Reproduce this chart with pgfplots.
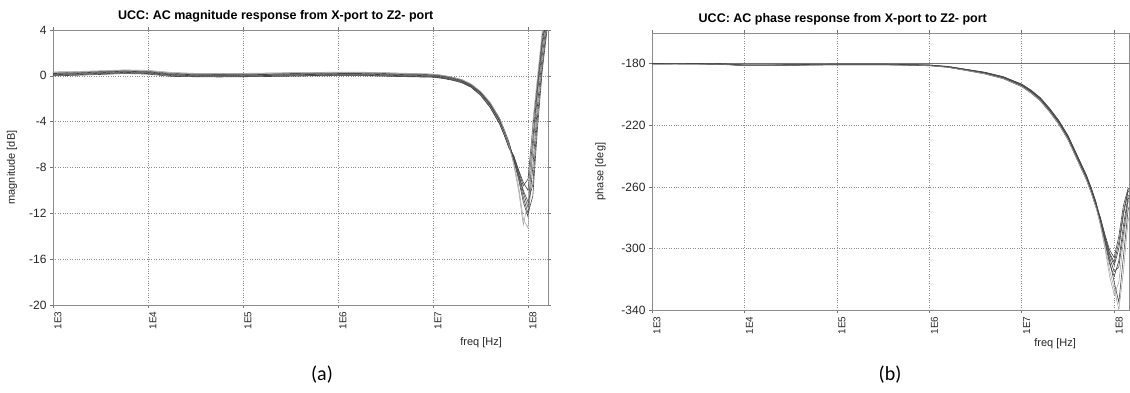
\documentclass[border=0pt]{standalone}
\usepackage{fontspec}
\setmainfont{Liberation Sans}
\newfontfamily\capfont{Carlito}
\usepackage{pgfplots}
\pgfplotsset{compat=1.18}
\usepackage{pgfplotstable}

% x = log10(freq/Hz)
\pgfplotstableread{
x     a      b      c      d      e      f      g      h
3.00  0.15   0.25   0.05   0.30   0.10   0.20   0.00   0.35
3.25  0.20   0.32   0.10   0.28   0.15   0.25   0.05   0.38
3.50  0.28   0.38   0.18   0.40   0.22   0.33   0.12   0.45
3.75  0.35   0.45   0.25   0.48   0.30   0.40   0.20   0.52
4.00  0.30   0.40   0.20   0.42   0.25   0.35   0.15   0.48
4.25  0.10   0.22   0.02   0.25   0.08   0.15  -0.05   0.30
4.50  0.05   0.15  -0.05   0.20   0.00   0.10  -0.08   0.22
4.75  0.05   0.14  -0.04   0.18   0.02   0.10  -0.10   0.20
5.00  0.05   0.15  -0.05   0.20   0.00   0.10  -0.08   0.22
5.25  0.07   0.17  -0.02   0.22   0.03   0.12  -0.06   0.25
5.50  0.10   0.20   0.00   0.25   0.05   0.15  -0.03   0.28
5.75  0.12   0.22   0.03   0.27   0.08   0.17   0.00   0.30
6.00  0.15   0.25   0.05   0.30   0.10   0.20   0.02   0.33
6.25  0.15   0.26   0.05   0.30   0.10   0.20   0.02   0.32
6.50  0.10   0.20   0.00   0.25   0.05   0.15  -0.03   0.28
6.75  0.05   0.15  -0.05   0.20   0.00   0.10  -0.08   0.22
7.00  0.00   0.10  -0.10   0.15  -0.05   0.05  -0.12   0.15
7.10 -0.10   0.00  -0.20   0.05  -0.15  -0.05  -0.22   0.05
7.20 -0.25  -0.15  -0.35  -0.12  -0.30  -0.20  -0.38  -0.10
7.30 -0.45  -0.35  -0.55  -0.35  -0.50  -0.40  -0.60  -0.30
7.40 -0.85  -0.75  -0.95  -0.80  -0.90  -0.80  -1.00  -0.70
7.50 -1.50  -1.40  -1.65  -1.50  -1.55  -1.45  -1.70  -1.35
7.60 -2.50  -2.35  -2.70  -2.55  -2.55  -2.45  -2.75  -2.30
7.70 -3.90  -3.70  -4.15  -4.00  -3.95  -3.85  -4.20  -3.70
7.75 -4.90  -4.70  -5.15  -5.05  -4.90  -4.85  -5.20  -4.75
7.80 -6.00  -5.80  -6.30  -6.25  -6.00  -5.95  -6.30  -6.00
7.85 -7.20  -7.40  -7.00  -7.60  -7.10  -7.30  -7.00  -7.80
7.90 -8.60  -9.00  -8.30  -9.60  -8.50  -8.80  -8.20  -10.00
7.95 -10.20 -11.00 -9.60  -12.50 -10.00 -10.60 -9.30  -13.00
8.00 -11.50 -12.30 -9.00  -13.30 -11.00 -12.00 -10.00 -11.00
8.05 -6.50  -8.00  -4.50  -6.00  -9.50  -10.50 -5.50  -4.00
8.10 -1.50  -2.50  -0.50  -1.00  -3.50  -4.50  -1.00   0.00
8.15  2.50   1.80   3.50   3.00   1.00   0.50   3.00   4.00
8.20  5.50   5.00   6.00   6.00   4.50   4.00   5.50   6.50
}\magtab

\pgfplotstableread{
x     a       b       c       d       e       f       g       h
3.00 -180.0  -179.8  -180.2  -180.0  -179.9  -180.1  -180.0  -179.8
3.25 -180.0  -179.9  -180.1  -180.1  -179.9  -180.0  -180.1  -179.9
3.50 -180.0  -179.8  -180.2  -180.0  -179.9  -180.1  -180.0  -179.8
3.75 -180.2  -180.0  -180.4  -180.2  -180.1  -180.3  -180.2  -180.0
4.00 -181.0  -180.8  -181.2  -181.0  -180.9  -181.1  -181.0  -180.8
4.25 -181.0  -180.8  -181.2  -181.1  -180.9  -181.1  -181.0  -180.8
4.50 -180.8  -180.6  -181.0  -180.8  -180.7  -180.9  -180.8  -180.6
4.75 -180.6  -180.4  -180.8  -180.6  -180.5  -180.7  -180.6  -180.4
5.00 -180.5  -180.3  -180.7  -180.5  -180.4  -180.6  -180.5  -180.3
5.25 -180.5  -180.3  -180.7  -180.5  -180.4  -180.6  -180.5  -180.3
5.50 -180.5  -180.3  -180.7  -180.5  -180.4  -180.6  -180.5  -180.3
5.75 -180.7  -180.5  -180.9  -180.7  -180.6  -180.8  -180.7  -180.5
6.00 -181.0  -180.8  -181.3  -181.0  -180.9  -181.1  -181.1  -180.8
6.20 -182.0  -181.7  -182.3  -182.1  -181.9  -182.1  -182.2  -181.8
6.40 -184.0  -183.6  -184.4  -184.1  -183.8  -184.1  -184.3  -183.7
6.60 -186.0  -185.5  -186.6  -186.2  -185.8  -186.2  -186.5  -185.6
6.80 -189.0  -188.4  -189.7  -189.3  -188.8  -189.2  -189.6  -188.5
7.00 -194.0  -193.2  -194.9  -194.4  -193.7  -194.3  -194.8  -193.4
7.10 -198.0  -197.1  -199.0  -198.5  -197.7  -198.3  -198.9  -197.3
7.20 -203.0  -202.0  -204.1  -203.6  -202.6  -203.3  -204.0  -202.2
7.30 -210.0  -208.9  -211.2  -210.7  -209.6  -210.3  -211.1  -209.1
7.40 -218.0  -216.8  -219.3  -218.8  -217.6  -218.3  -219.2  -217.0
7.50 -228.0  -226.7  -229.4  -228.9  -227.5  -228.3  -229.3  -226.8
7.60 -241.0  -239.6  -242.5  -242.0  -240.5  -241.3  -242.4  -239.7
7.70 -254.0  -252.5  -255.6  -255.2  -253.4  -254.3  -255.5  -252.6
7.75 -262.0  -260.5  -263.7  -263.3  -261.4  -262.3  -263.6  -260.5
7.80 -271.0  -269.5  -272.8  -272.5  -270.5  -271.3  -272.8  -269.4
7.85 -281.0  -283.0  -280.0  -285.0  -282.0  -281.0  -284.0  -280.0
7.90 -293.0  -296.0  -291.0  -300.0  -295.0  -294.0  -298.0  -292.0
7.95 -304.0  -310.0  -301.0  -318.0  -308.0  -306.0  -314.0  -303.0
8.00 -311.0  -318.0  -306.0  -330.0  -322.0  -315.0  -326.0  -309.0
8.05 -300.0  -308.0  -292.0  -322.0  -335.0  -312.0  -340.0  -296.0
8.10 -278.0  -285.0  -272.0  -295.0  -305.0  -290.0  -315.0  -276.0
8.15 -263.0  -266.0  -261.0  -270.0  -275.0  -268.0  -282.0  -262.0
8.20 -262.0  -263.0  -260.0  -264.0  -266.0  -263.0  -270.0  -261.0
}\phasetab

\pgfplotsset{
  ucc/.style={
    scale only axis,
    anchor=south west,
    axis line style={black!45, line width=0.8pt},
    grid=major,
    major grid style={black!45, dotted, line width=0.6pt},
    tick style={black!55, line width=0.6pt},
    tick align=outside,
    major tick length=3pt,
    xtick={3,4,5,6,7,8},
    xticklabels={1E3,1E4,1E5,1E6,1E7,1E8},
    xmin=3,
    x tick label style={rotate=90, anchor=east, yshift=-5pt, font=\fontsize{10}{11}\selectfont, text=black!85},
    y tick label style={font=\fontsize{12}{13}\selectfont, text=black!85},
    /pgf/number format/assume math mode=true,
    title style={font=\bfseries\fontsize{12.5}{14}\selectfont, anchor=south, yshift=-2pt},
    ylabel style={font=\fontsize{11}{12}\selectfont, text=black!85, anchor=center},
    xlabel style={font=\fontsize{11}{12}\selectfont, text=black!85, anchor=center},
    dk/.style={black!72, line width=0.6pt},
    lt/.style={black!38, line width=0.5pt},
  }
}

\begin{document}
\begin{tikzpicture}
\useasboundingbox (0pt,0pt) rectangle (1130pt,392pt);

\begin{axis}[ucc,
  at={(53pt,87pt)}, width=495pt, height=275pt,
  xmax=8.21, ymin=-20, ymax=4, ytick={-20,-16,...,4},
  title={UCC: AC magnitude response from X-port to Z2- port},
  title style={at={(0.45,1)}},
  ylabel={magnitude [dB]},
  ylabel style={at={(axis description cs:-0.083,0.5)}},
  xlabel={freq [Hz]},
  xlabel style={at={(axis description cs:0.865,-0.138)}},
]
\addplot[dk] table[x=x,y=a]{\magtab};
\addplot[dk] table[x=x,y=b]{\magtab};
\addplot[dk] table[x=x,y=c]{\magtab};
\addplot[lt] table[x=x,y=d]{\magtab};
\addplot[dk] table[x=x,y=e]{\magtab};
\addplot[dk] table[x=x,y=f]{\magtab};
\addplot[dk] table[x=x,y=g]{\magtab};
\addplot[lt] table[x=x,y=h]{\magtab};
\end{axis}

\begin{axis}[ucc,
  at={(652pt,82pt)}, width=477pt, height=277pt,
  xmax=8.16, ymin=-340, ymax=-160, ytick={-340,-300,...,-180},
  title={UCC: AC phase response from X-port to Z2- port},
  title style={at={(0.4,1)}},
  ylabel={phase [deg]},
  ylabel style={at={(axis description cs:-0.108,0.5)}},
  xlabel={freq [Hz]},
  xlabel style={at={(axis description cs:0.845,-0.12)}},
]
\addplot[black!55, line width=0.6pt] coordinates {(3,-180) (8.3,-180)};
\addplot[dk] table[x=x,y=a]{\phasetab};
\addplot[dk] table[x=x,y=b]{\phasetab};
\addplot[dk] table[x=x,y=c]{\phasetab};
\addplot[lt] table[x=x,y=d]{\phasetab};
\addplot[dk] table[x=x,y=e]{\phasetab};
\addplot[dk] table[x=x,y=f]{\phasetab};
\addplot[lt] table[x=x,y=g]{\phasetab};
\addplot[dk] table[x=x,y=h]{\phasetab};
\end{axis}

\node[font=\capfont\fontsize{20}{22}\selectfont] at (322pt,17pt) {(a)};
\node[font=\capfont\fontsize{20}{22}\selectfont] at (890pt,17pt) {(b)};
\end{tikzpicture}
\end{document}
